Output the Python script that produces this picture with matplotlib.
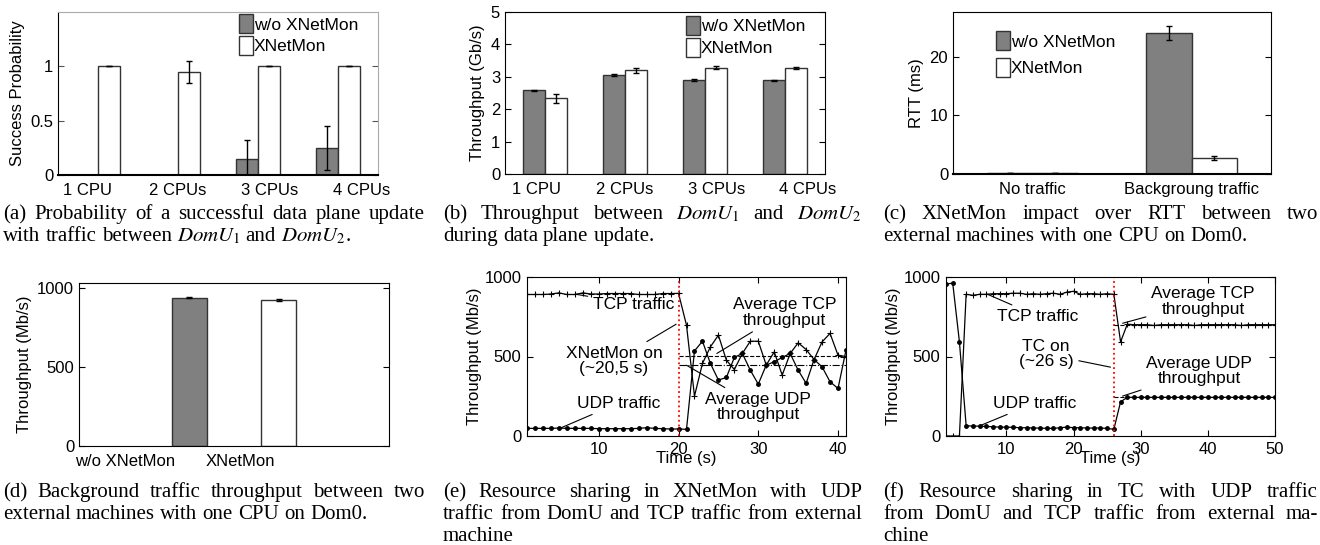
import numpy as np
import matplotlib
matplotlib.use("Agg")
from matplotlib import pyplot as plt

plt.rcParams["font.family"] = ["Liberation Sans", "DejaVu Sans"]
plt.rcParams["mathtext.fontset"] = "stix"
plt.rcParams["font.size"] = 12

W, H = 1320, 545

# (a) success probability
cpu_labels = ["1 CPU", "2 CPUs", "3 CPUs", "4 CPUs"]
succ_without = [0.0, 0.0, 0.15, 0.25]
succ_without_err = [0.0, 0.0, 0.17, 0.20]
succ_with = [1.0, 0.95, 1.0, 1.0]
succ_with_err = [0.0, 0.10, 0.0, 0.0]

# (b) throughput DomU1 -> DomU2 (Gb/s)
thr_without = [2.58, 3.06, 2.91, 2.89]
thr_without_err = [0.02, 0.04, 0.03, 0.02]
thr_with = [2.34, 3.20, 3.28, 3.27]
thr_with_err = [0.14, 0.07, 0.04, 0.04]

# (c) RTT (ms)
rtt_labels = ["No traffic", "Backgroung traffic"]
rtt_without = [0.2, 24.0]
rtt_without_err = [0.05, 1.2]
rtt_with = [0.2, 2.7]
rtt_with_err = [0.05, 0.3]

# (d) background traffic throughput (Mb/s)
bg_labels = ["w/o XNetMon", "XNetMon"]
bg_tput = [940, 925]
bg_err = [4, 4]

# (e) XNetMon resource sharing
e_time = np.arange(1, 42)
e_tcp = [890, 890, 890, 893, 900, 890, 890, 900, 893, 893, 896, 896, 896, 896, 890,
         890, 890, 896, 896, 897,
         697, 251, 456, 561, 634, 477, 418, 519, 596, 596, 446, 529, 383, 519, 586,
         544, 481, 592, 645, 508, 500]
e_udp = [48, 48, 48, 48, 50, 48, 48, 48, 48, 46, 46, 46, 46, 46, 48, 52, 48, 46, 44, 44,
         42, 535, 596, 456, 352, 368, 494, 519, 414, 326, 446, 467, 494, 519, 414,
         331, 481, 435, 341, 299, 540]
e_switch = 20
e_tcp_avg = 505
e_udp_avg = 445

# (f) TC resource sharing
f_time = np.arange(1, 51)
f_tcp = [0, 0, 0,
         891, 885, 891, 891, 895, 895, 895, 898, 898, 891, 895, 891, 895, 898, 891, 905,
         910, 891, 895, 895, 891, 895, 891,
         592, 703,
         700, 700, 700, 695, 700, 700, 700, 700, 700, 695, 700, 700, 700, 700, 700, 700,
         695, 700, 700, 700, 700, 700]
f_udp = [955, 962, 592,
         65, 62, 62, 60, 58, 56, 55, 55, 52, 52, 50, 50, 48, 48, 52, 56, 52, 52, 50, 50,
         50, 48, 42,
         215,
         243, 243, 243, 243, 243, 243, 243, 243, 243, 243, 243, 243, 243, 243, 243, 243,
         243, 243, 243, 243, 243, 243, 243]
f_switch = 26
f_tcp_avg = 700
f_udp_avg = 243

GRAY = "#808080"
EDGE = "#333333"


def axes_px(fig, x0, y0, x1, y1):
    return fig.add_axes([x0 / W, 1 - y1 / H, (x1 - x0) / W, (y1 - y0) / H])


def grouped_bars(ax, left, left_err, right, right_err, width=0.28):
    x = np.arange(1, len(left) + 1)
    b1 = ax.bar(x - width / 2, left, width, color=GRAY, edgecolor=EDGE, linewidth=1,
                label="w/o XNetMon")
    b2 = ax.bar(x + width / 2, right, width, color="white", edgecolor=EDGE, linewidth=1,
                label="XNetMon")
    ax.errorbar(x - width / 2, left, yerr=left_err, fmt="none", ecolor="black",
                elinewidth=1, capsize=2.5)
    ax.errorbar(x + width / 2, right, yerr=right_err, fmt="none", ecolor="black",
                elinewidth=1, capsize=2.5)
    return b1, b2


def bar_legend(ax, anchor, spacing=0.15):
    ax.legend(loc="upper left", bbox_to_anchor=anchor, frameon=False, borderaxespad=0,
              handlelength=0.8, handleheight=1.3, handletextpad=0.05,
              labelspacing=spacing, fontsize=12.5, borderpad=0)


fig = plt.figure(figsize=(W / 100, H / 100), dpi=100)

# ---- (a)
ax = axes_px(fig, 58, 12, 378, 175)
grouped_bars(ax, succ_without, succ_without_err, succ_with, succ_with_err)
ax.set_xlim(0.5, 4.5)
ax.set_ylim(0, 1.5)
ax.set_yticks([0, 0.5, 1])
ax.set_yticklabels(["0", "0.5", "1"])
ax.set_xticks([0.87, 2.0, 3.14, 4.29])
ax.set_xticklabels(cpu_labels)
ax.tick_params(axis="x", length=0, pad=6)
ax.tick_params(axis="y", direction="in", length=4, color="#555555", right=True)
for s in ["top", "right"]:
    ax.spines[s].set_color("#aaaaaa")
ax.spines["bottom"].set_linewidth(1.5)
ax.set_ylabel("Success Probability")
bar_legend(ax, (0.565, 0.985))

# ---- (b)
ax = axes_px(fig, 505, 12, 825, 174)
grouped_bars(ax, thr_without, thr_without_err, thr_with, thr_with_err)
ax.set_xlim(0.5, 4.5)
ax.set_ylim(0, 5)
ax.set_yticks(range(6))
ax.set_xticks([0.9, 1.99, 3.14, 4.28])
ax.set_xticklabels(cpu_labels)
ax.tick_params(axis="x", length=0, pad=6)
ax.tick_params(axis="y", direction="in", length=4, right=True)
ax.set_ylabel("Throughput (Gb/s)")
bar_legend(ax, (0.565, 0.975))

# ---- (c)
ax = axes_px(fig, 953, 12, 1271, 174)
grouped_bars(ax, rtt_without, rtt_without_err, rtt_with, rtt_with_err, width=0.286)
ax.set_xlim(0.5, 2.5)
ax.set_ylim(0, 27.6)
ax.set_yticks([0, 10, 20])
ax.set_xticks([1, 2])
ax.set_xticklabels(rtt_labels)
ax.tick_params(axis="x", length=0, pad=6)
ax.tick_params(axis="y", direction="in", length=4, right=True)
ax.spines["bottom"].set_linewidth(1.5)
ax.set_ylabel("RTT (ms)")
bar_legend(ax, (0.135, 0.88), spacing=0.45)

# ---- (d)
ax = axes_px(fig, 79, 283, 389, 446)
xb = np.arange(1, len(bg_tput) + 1)
ax.bar(xb, bg_tput, 0.4, color=[GRAY, "white"], edgecolor=EDGE, linewidth=1)
ax.errorbar(xb, bg_tput, yerr=bg_err, fmt="none", ecolor="black", elinewidth=1,
            capsize=2.5)
ax.set_xlim(-0.24, 3.24)
ax.set_ylim(0, 1032)
ax.set_yticks([0, 500, 1000])
ax.set_xticks([0.28, 1.57])
ax.set_xticklabels(bg_labels)
ax.tick_params(axis="x", length=0, pad=6)
ax.tick_params(axis="y", direction="in", length=4, right=True)
ax.set_ylabel("Throughput (Mb/s)")


def timeline(ax, t, tcp, udp, switch, tcp_avg, udp_avg, udp_style):
    ax.plot(t, tcp, color="black", lw=0.9, marker="+", ms=5, mew=0.8)
    ax.plot(t, udp, color="black", lw=0.9, marker=".", ms=5)
    ax.axvline(switch, color="red", ls=":", lw=1.3)
    ax.plot([switch, t[-1]], [tcp_avg, tcp_avg], color="black", ls="--", lw=0.8)
    ax.plot([switch, t[-1]], [udp_avg, udp_avg], color="black", ls=udp_style, lw=0.8)
    ax.set_ylim(0, 1000)
    ax.set_yticks([0, 500, 1000])
    ax.tick_params(direction="in", length=4, top=True, right=True, pad=4)
    ax.set_ylabel("Throughput (Mb/s)", labelpad=2)
    ax.set_xlabel("Time (s)", labelpad=-4)


def note(ax, text, xy, xytext):
    ax.annotate(text, xy=xy, xytext=xytext, ha="center", va="center", fontsize=12.5,
                linespacing=1.05,
                arrowprops=dict(arrowstyle="-", color="black", lw=0.8,
                                shrinkA=2, shrinkB=0))


# ---- (e)
ax = axes_px(fig, 527, 277, 846, 436)
timeline(ax, e_time, e_tcp, e_udp, e_switch, e_tcp_avg, e_udp_avg, "-.")
ax.set_xlim(1, 41)
ax.set_xticks([10, 20, 30, 40])
note(ax, "TCP traffic", (7.2, 891), (14.4, 829))
note(ax, "XNetMon on\n(~20,5 s)", (19.7, 703), (11.9, 471))
note(ax, "UDP traffic", (5.2, 50), (12.5, 207))
note(ax, "Average TCP\nthroughput", (24.8, 519), (33.3, 778))
note(ax, "Average UDP\nthroughput", (21.0, 445), (30.0, 182))

# ---- (f)
ax = axes_px(fig, 946, 277, 1275, 436)
timeline(ax, f_time, f_tcp, f_udp, f_switch, f_tcp_avg, f_udp_avg, "--")
ax.set_xlim(1, 50)
ax.set_xticks([10, 20, 30, 40, 50])
note(ax, "TCP traffic", (7.2, 891), (14.7, 753))
note(ax, "TC on\n(~26 s)", (25.5, 433), (15.9, 515))
note(ax, "UDP traffic", (6.3, 69), (14.2, 207))
note(ax, "Average TCP\nthroughput", (27.3, 709), (39.3, 847))
note(ax, "Average UDP\nthroughput", (27.3, 251), (38.7, 408))

# ---- captions (justified)
captions = [
    (3, 425, 219, ["(a) Probability of a successful data plane update",
                   "with traffic between $DomU_1$ and $DomU_2$."]),
    (443, 862, 219, ["(b) Throughput between $DomU_1$ and $DomU_2$",
                     "during data plane update."]),
    (883, 1318, 219, ["(c) XNetMon impact over RTT between two",
                      "external machines with one CPU on Dom0."]),
    (3, 425, 497, ["(d) Background traffic throughput between two",
                   "external machines with one CPU on Dom0."]),
    (443, 862, 497, ["(e) Resource sharing in XNetMon with UDP",
                     "traffic from DomU and TCP traffic from external",
                     "machine"]),
    (883, 1318, 497, ["(f) Resource sharing in TC with UDP traffic",
                      "from DomU and TCP traffic from external ma-",
                      "chine"]),
]

CAP_SIZE = 15
renderer = fig.canvas.get_renderer()
space = 0.25 * CAP_SIZE * 100 / 72
for x0, x1, y0, lines in captions:
    for i, line in enumerate(lines):
        words = line.split(" ")
        base = 1 - (y0 + i * 22) / H
        texts = [fig.text(0, base, w, fontsize=CAP_SIZE, family="Liberation Serif",
                          va="baseline") for w in words]
        widths = [t.get_window_extent(renderer).width for t in texts]
        if i == len(lines) - 1 or len(words) == 1:
            gap = space
        else:
            gap = (x1 - x0 - sum(widths)) / (len(words) - 1)
        x = x0
        for t, w in zip(texts, widths):
            t.set_x(x / W)
            x += w + gap

fig.savefig("out.png", dpi=100)
